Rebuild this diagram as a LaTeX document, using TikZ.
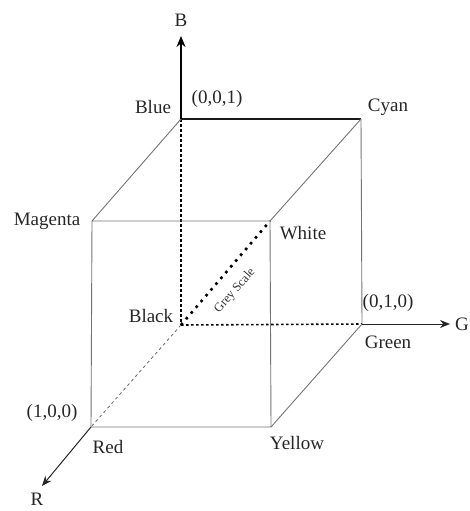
\documentclass[tikz,border=0pt]{standalone}
\usepackage{fontspec}
\setmainfont{Liberation Serif}
\usetikzlibrary{arrows.meta}
\begin{document}
\begin{tikzpicture}[x=1pt,y=-1pt,
  edge/.style={draw=black!55, line width=0.9pt},
  boldedge/.style={draw=black!90, line width=1.8pt},
  hidden/.style={draw=black, line width=1.6pt, dash pattern=on 2.5pt off 2.5pt},
  hiddenthin/.style={draw=black!60, line width=0.8pt, dash pattern=on 3pt off 3pt},
  greyscale/.style={draw=black, line width=2.6pt, dash pattern=on 2.6pt off 5pt},
  axis/.style={draw=black!85, line width=1pt, -{Stealth[length=10pt,width=8pt]}},
  baxis/.style={draw=black, line width=1.8pt, -{Stealth[length=11pt,width=9pt]}},
  lbl/.style={font=\fontsize{19}{21}\selectfont, inner sep=0pt, text=black!85},
  small/.style={font=\fontsize{12.5}{14}\selectfont, inner sep=0pt, text=black!80}]
\useasboundingbox (0,0) rectangle (470,511);
% corners
\coordinate (K) at (181,325);
\coordinate (Bl) at (181,119);
\coordinate (C) at (361,119);
\coordinate (Gr) at (362,324);
\coordinate (M) at (92,221);
\coordinate (W) at (270,221);
\coordinate (Y) at (271,427);
\coordinate (Rd) at (91,427);
\coordinate (Btip) at (181,36);
\coordinate (Gtip) at (450,324);
\coordinate (Rtip) at (42,486);
% hidden edges
\draw[hidden] (Bl) -- (K);
\draw[hidden] (K) -- (Gr);
\draw[hiddenthin] (K) -- (Rd);
\draw[greyscale] (K) -- (W);
% visible edges
\draw[boldedge] (Bl) -- (C);
\draw[edge] (C) -- (Gr);
\draw[edge] (Bl) -- (M);
\draw[edge] (C) -- (W);
\draw[edge] (Gr) -- (Y);
\draw[edge] (M) -- (W) -- (Y) -- (Rd) -- cycle;
% axes
\draw[baxis] (Bl) -- (Btip);
\draw[axis] (Gr) -- (Gtip);
\draw[axis] (Rd) -- (Rtip);
% labels
\node[lbl] (lB) at (181,20) {B};
\node[lbl] (lG) at (462,324) {G};
\node[lbl] (lR) at (37,499) {R};
\node[lbl] (lBlue) at (153,107) {Blue};
\node[lbl] (l001) at (217,99) {(0,0,1)};
\node[lbl] (lCyan) at (388,107) {Cyan};
\node[lbl] (lMag) at (47,221) {Magenta};
\node[lbl] (lWhite) at (303,233) {White};
\node[lbl] (lBlack) at (151,316) {Black};
\node[small, rotate=49] (lGrey) at (235,291) {Grey Scale};
\node[lbl] (l010) at (388,303) {(0,1,0)};
\node[lbl] (lGreen) at (388,342) {Green};
\node[lbl] (l100) at (52,413) {(1,0,0)};
\node[lbl] (lRed) at (108,447) {Red};
\node[lbl] (lYellow) at (297,443) {Yellow};
\end{tikzpicture}
\end{document}
